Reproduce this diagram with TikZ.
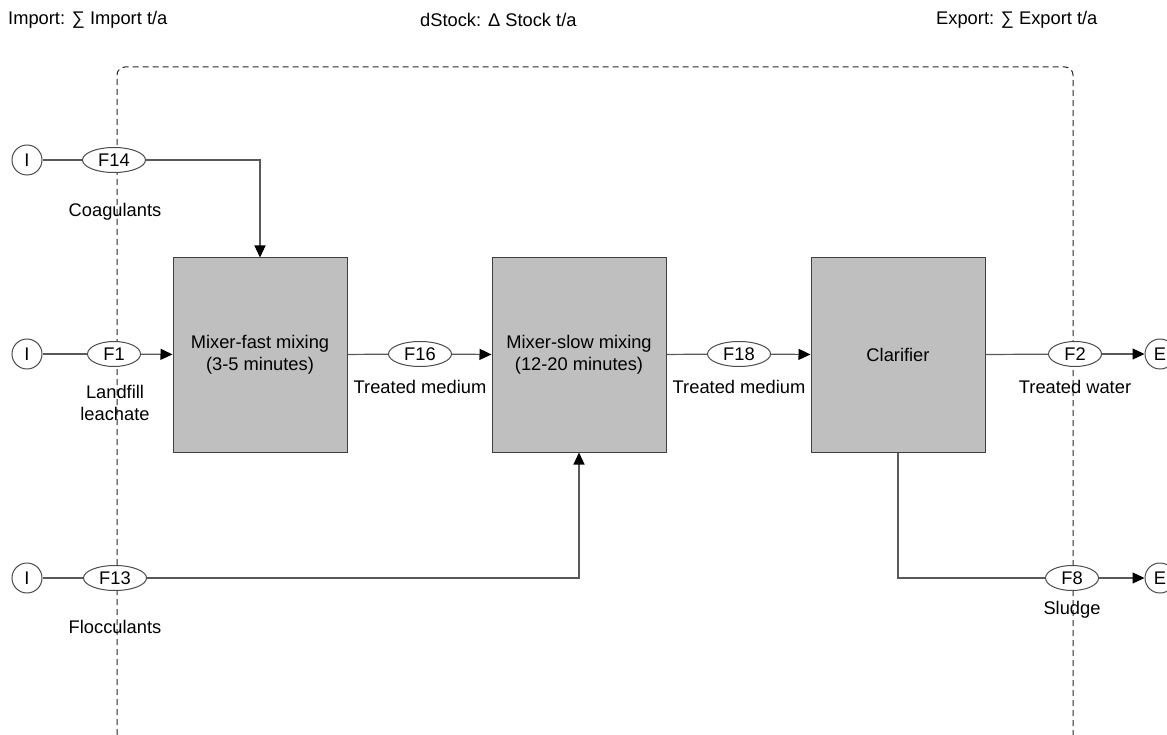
\documentclass[tikz,border=0pt]{standalone}
\usepackage{fontspec}
\setmainfont{Liberation Sans}
\usetikzlibrary{arrows.meta,shapes.geometric}
\begin{document}
\begin{tikzpicture}[x=1pt,y=-1pt,
  every node/.style={font=\fontsize{18.3}{22}\selectfont},
  proc/.style={draw=black!75, line width=1pt, fill=black!25, minimum width=174pt, minimum height=194pt, inner sep=0, align=center},
  flow/.style={ellipse, draw=black!70, line width=1pt, fill=white, inner sep=0, minimum height=25pt},
  term/.style={circle, draw=black!70, line width=1pt, fill=white, minimum size=30pt, inner sep=0},
  lbl/.style={align=center, inner sep=0},
  conn/.style={draw=black!65, line width=1.2pt},
  arr/.style={conn, -{Triangle[length=12pt,width=11pt,color=black]}},
  sysb/.style={draw=black!85, dash pattern=on 6pt off 4pt, line width=1pt, rounded corners=8pt}
]
\useasboundingbox (0,0) rectangle (1167,735);

% headline balances
\node[anchor=west, inner sep=0] (imp) at (8,20) {Import: ∑ Import t/a};
\node[anchor=west, inner sep=0] (dst) at (420,20) {dStock: Δ Stock t/a};
\node[anchor=west, inner sep=0] (exp) at (936,20) {Export: ∑ Export t/a};

% system boundary
\draw[sysb] (117,735) -- (117,67) -- (1073,67) -- (1073,735);

% processes
\node[proc] (mf) at (260,355) {Mixer-fast mixing\\(3-5 minutes)};
\node[proc] (ms) at (579,355) {Mixer-slow mixing\\(12-20 minutes)};
\node[proc] (cl) at (898,355) {Clarifier};

% import and export terminals
\node[term] (I1) at (27,160) {I};
\node[term] (I2) at (27,354) {I};
\node[term] (I3) at (27,578) {I};
\node[term] (E1) at (1160,354) {E};
\node[term] (E2) at (1160,578) {E};

% flows
\node[flow, minimum width=63pt] (F14) at (114,160) {F14};
\node[flow, minimum width=53pt] (F1) at (114,354) {F1};
\node[flow, minimum width=63pt] (F13) at (115,578) {F13};
\node[flow, minimum width=63pt] (F16) at (420,354) {F16};
\node[flow, minimum width=63pt] (F18) at (739,354) {F18};
\node[flow, minimum width=53pt] (F2) at (1075,354) {F2};
\node[flow, minimum width=53pt] (F8) at (1072,578) {F8};

% flow labels
\node[lbl] (l14) at (115,212) {Coagulants};
\node[lbl] (l1) at (115,403) {Landfill\\leachate};
\node[lbl] (l13) at (115,627) {Flocculants};
\node[lbl] (l16) at (420,387) {Treated medium};
\node[lbl] (l18) at (739,387) {Treated medium};
\node[lbl] (l2) at (1075,387) {Treated water};
\node[lbl] (l8) at (1072,610) {Sludge};

% connectors
\draw[conn] (I1) -- (F14);
\draw[arr] (F14) -| (mf.north);
\draw[conn] (I2) -- (F1);
\draw[arr] (F1) -- (mf);
\draw[conn] (mf) -- (F16);
\draw[arr] (F16) -- (ms);
\draw[conn] (ms) -- (F18);
\draw[arr] (F18) -- (cl);
\draw[conn] (cl) -- (F2);
\draw[arr] (F2) -- (E1);
\draw[conn] (cl.south) |- (F8);
\draw[arr] (F8) -- (E2);
\draw[conn] (I3) -- (F13);
\draw[arr] (F13) -| (ms.south);
\end{tikzpicture}
\end{document}
